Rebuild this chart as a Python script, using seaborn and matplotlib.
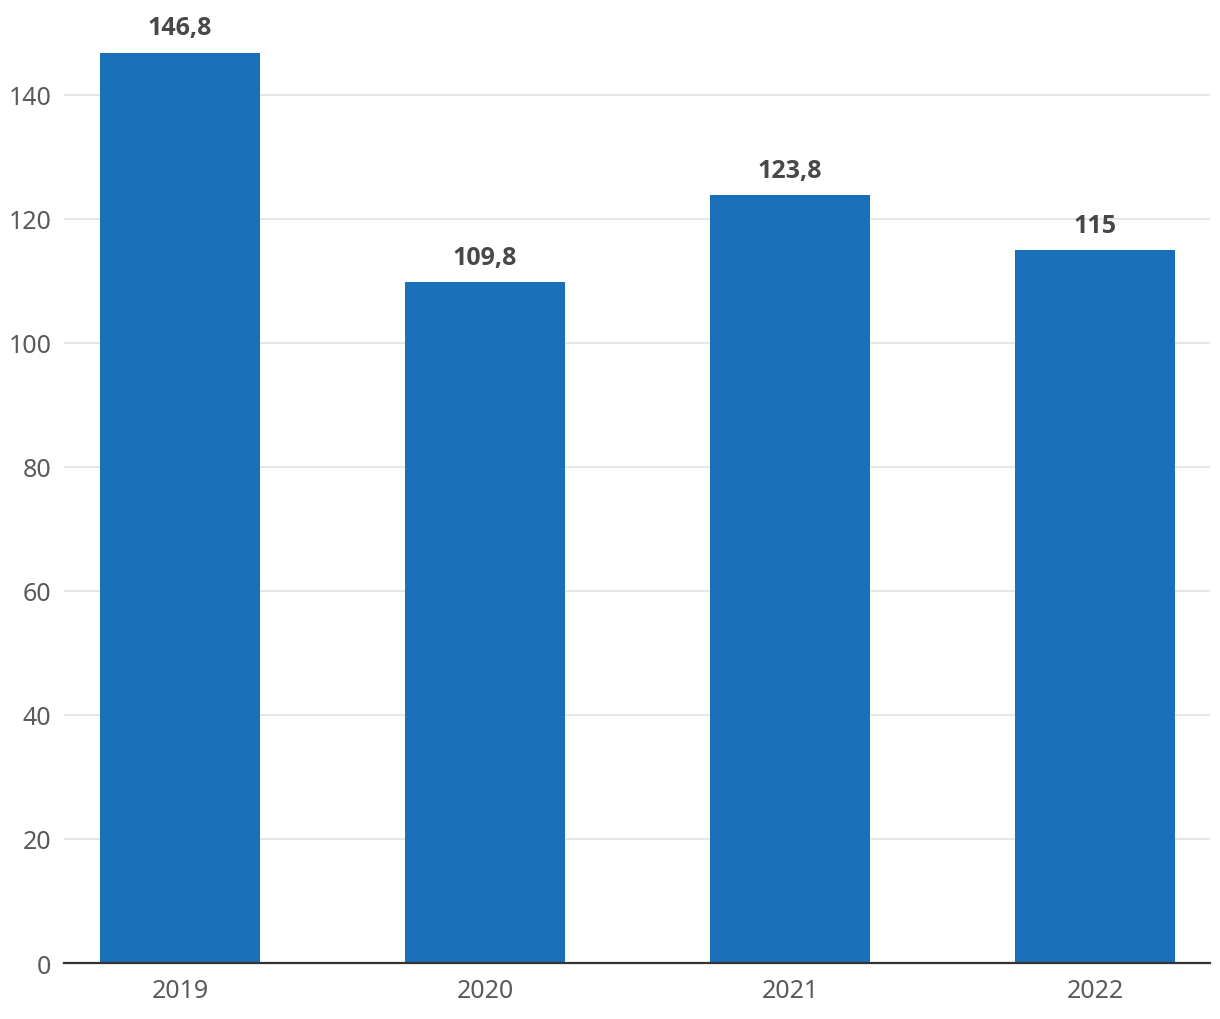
import pandas as pd
import matplotlib
matplotlib.use("Agg")
import matplotlib.pyplot as plt
import seaborn as sns

years = ["2019", "2020", "2021", "2022"]
values = [146.8, 109.8, 123.8, 115]
labels = ["146,8", "109,8", "123,8", "115"]

df = pd.DataFrame({"year": years, "value": values})

sns.set_style("white")
plt.rcParams["font.family"] = ["Noto Sans", "DejaVu Sans"]

fig = plt.figure(figsize=(12.2, 10.2), dpi=100)
ax = fig.add_axes([0.0525, 0.0549, 0.9393, 0.9118])

sns.barplot(data=df, x="year", y="value", color="#1a70b8", width=0.525,
            saturation=1, linewidth=0, ax=ax, zorder=3)

# value labels above the bars
for i, (v, lab) in enumerate(zip(values, labels)):
    ax.text(i, v + 2.0, lab, ha="center", va="bottom", fontsize=18,
            fontweight="bold", color="#484848",
            family=["Open Sans", "DejaVu Sans"])

ax.set_xlim(-0.38, 3.377)
ax.set_ylim(0, 150)
ax.set_yticks(range(0, 141, 20))
ax.yaxis.grid(True, color="#e3e3e3", linewidth=1.2, zorder=0)
ax.set_xlabel("")
ax.set_ylabel("")
ax.tick_params(axis="both", length=0, labelsize=18, labelcolor="#5a5a5a")
ax.tick_params(axis="x", pad=11)
ax.tick_params(axis="y", pad=9)
for s in ["top", "right", "left"]:
    ax.spines[s].set_visible(False)
ax.spines["bottom"].set_color("#333333")
ax.spines["bottom"].set_linewidth(1.6)
ax.spines["bottom"].set_zorder(4)

fig.savefig("out.png", dpi=100)
